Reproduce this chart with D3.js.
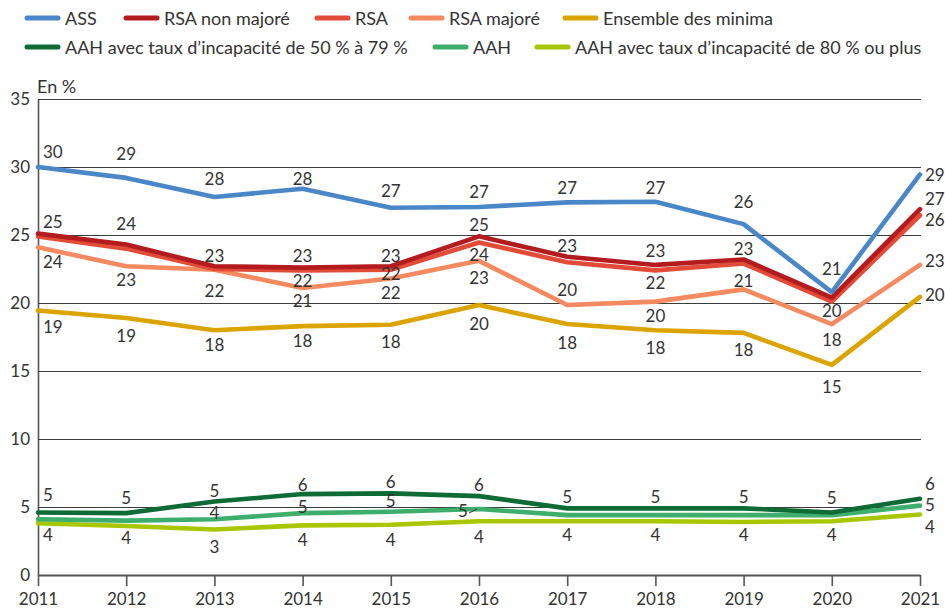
<!DOCTYPE html>
<html lang="fr">
<head>
<meta charset="UTF-8">
<title>Taux par minimum social</title>
<style>
  body { margin: 0; background: #fff; }
  svg text { font-family: Lato, "Noto Sans", sans-serif; fill: #333; }
</style>
<script src="https://d3js.org/d3.v7.min.js"></script>
</head>
<body>
<script>
// years on the x axis
const years = [2011, 2012, 2013, 2014, 2015, 2016, 2017, 2018, 2019, 2020, 2021];

// values (en %)
const ass          = [30.0, 29.2, 27.8, 28.4, 27.0, 27.06, 27.4, 27.45, 25.8, 20.8, 29.45];
const rsaNonMajore = [25.1, 24.3, 22.7, 22.6, 22.7, 24.9, 23.4, 22.8, 23.2, 20.4, 26.9];
const rsa          = [24.9, 24.0, 22.5, 22.4, 22.45, 24.45, 23.0, 22.4, 22.9, 20.1, 26.45];
const rsaMajore    = [24.1, 22.7, 22.45, 21.1, 21.8, 23.1, 19.85, 20.1, 21.0, 18.45, 22.8];
const ensemble     = [19.45, 18.9, 18.0, 18.3, 18.4, 19.85, 18.45, 18.0, 17.8, 15.45, 20.45];
const aah5079      = [4.6, 4.55, 5.4, 5.95, 6.0, 5.8, 4.9, 4.9, 4.9, 4.6, 5.6];
const aah          = [4.1, 4.0, 4.1, 4.55, 4.65, 4.85, 4.4, 4.4, 4.4, 4.4, 5.1];
const aah80        = [3.8, 3.6, 3.35, 3.65, 3.7, 3.95, 3.95, 3.95, 3.9, 3.95, 4.45];

const yTicks = [0, 5, 10, 15, 20, 25, 30, 35];

// where each value label sits, px above(-)/below(+) its point; null = no label
const labAss      = [-16, -24, -18, -10, -17, -15, -15, -14, -23, -24, 0];
const labRsaNm    = [-12, -21, -11, -12, -11, -12, -11, -14, -11, null, -11];
const labRsa      = [null, null, null, 10, 4, 12, null, 12, null, 9, 4];
const labRsaMaj   = [14, 13, 21, 12, 14, 17, -16, 14, -9, 15, -4];
const labEnsemble = [16, 18, 14, 14, 17, 18, 18, 17, 17, 22, -2];
const lab5079     = [-18, -16, -11, -10, -12, -12, -12, -12, -12, -15, -15];
const labAah      = [null, null, -7, -7, -11, "lead", null, null, null, null, -1];
const lab80       = [11, 11, 17, 14, 15, 15, 13, 13, 13, 13, 12];

// drawing order: first drawn sits underneath
const series = [
  {name: "AAH avec taux d\u2019incapacité de 80 % ou plus", values: aah80, color: "#a9c700", lab: lab80},
  {name: "AAH", values: aah, color: "#3dae6c", lab: labAah},
  {name: "AAH avec taux d\u2019incapacité de 50 % à 79 %", values: aah5079, color: "#0f6b35", lab: lab5079},
  {name: "Ensemble des minima", values: ensemble, color: "#dba400", lab: labEnsemble},
  {name: "RSA majoré", values: rsaMajore, color: "#f58a60", lab: labRsaMaj},
  {name: "RSA", values: rsa, color: "#e34b39", lab: labRsa},
  {name: "RSA non majoré", values: rsaNonMajore, color: "#b31b1f", lab: labRsaNm},
  {name: "ASS", values: ass, color: "#4a87c9", lab: labAss}
];

const W = 945, H = 609;
const svg = d3.select("body").append("svg").attr("width", W).attr("height", H);

const x = d3.scalePoint().domain(years).range([38, 920]);
const y = d3.scaleLinear().domain([0, 35]).range([575, 99]);

// y axis + gridlines
const yAxis = svg.append("g")
  .attr("transform", "translate(38,0)")
  .call(d3.axisLeft(y).tickValues(yTicks).tickSize(-883).tickSizeOuter(0).tickPadding(8));
yAxis.select(".domain").attr("stroke", "#555").attr("stroke-width", 1.6);
yAxis.selectAll(".tick line").attr("stroke", "#3c3c3c").attr("stroke-width", 1);
yAxis.selectAll(".tick text").style("font-size", "17px").attr("fill", "#555");
yAxis.selectAll(".tick").filter(d => d === 0).select("line").remove();

svg.append("text").attr("x", 37).attr("y", 93).style("font-size", "18px").text("En %");

// x axis
const xAxis = svg.append("g")
  .attr("transform", "translate(0,575)")
  .call(d3.axisBottom(x).tickSize(11).tickSizeOuter(0).tickPadding(7).tickFormat(d3.format("d")));
xAxis.select(".domain").attr("stroke", "#555").attr("stroke-width", 1.8);
xAxis.selectAll(".tick line").attr("stroke", "#555").attr("stroke-width", 1.6);
xAxis.selectAll(".tick text").style("font-size", "17px").attr("fill", "#444");

// lines
const line = d3.line()
  .x((d, i) => x(years[i]))
  .y(d => y(d));

svg.append("g").selectAll("path")
  .data(series)
  .join("path")
  .attr("d", s => line(s.values))
  .attr("fill", "none")
  .attr("stroke", s => s.color)
  .attr("stroke-width", 4.6)
  .attr("stroke-linejoin", "round")
  .attr("stroke-linecap", "round");

// value labels
const labels = svg.append("g").style("font-size", "17px");
series.forEach(s => {
  s.values.forEach((v, i) => {
    const off = s.lab[i];
    if (off === null) return;
    const px = x(years[i]), py = y(v);
    if (off === "lead") {
      labels.append("text")
        .attr("x", px - 16).attr("y", py + 1)
        .attr("text-anchor", "middle")
        .attr("dominant-baseline", "central")
        .text(Math.round(v));
      labels.append("line")
        .attr("x1", px - 10).attr("y1", py + 4)
        .attr("x2", px - 2).attr("y2", py)
        .attr("stroke", "#333").attr("stroke-width", 1);
      return;
    }
    let anchor = "middle", lx = px;
    if (i === 0) { anchor = "start"; lx = px + 5; }
    if (i === years.length - 1) { anchor = "start"; lx = px + 5; }
    labels.append("text")
      .attr("x", lx).attr("y", py + off)
      .attr("text-anchor", anchor)
      .attr("dominant-baseline", "central")
      .text(Math.round(v));
  });
});

// legend
const legendRows = [
  [{s: "ASS", x: 27}, {s: "RSA non majoré", x: 126}, {s: "RSA", x: 317}, {s: "RSA majoré", x: 411}, {s: "Ensemble des minima", x: 565}],
  [{s: "AAH avec taux d\u2019incapacité de 50 % à 79 %", x: 27}, {s: "AAH", x: 435}, {s: "AAH avec taux d\u2019incapacité de 80 % ou plus", x: 537}]
];
const legend = svg.append("g").style("font-size", "18px");
legendRows.forEach((row, r) => {
  const ly = 18 + r * 29;
  row.forEach(it => {
    const s = series.find(d => d.name === it.s);
    legend.append("line")
      .attr("x1", it.x).attr("x2", it.x + 31)
      .attr("y1", ly).attr("y2", ly)
      .attr("stroke", s.color).attr("stroke-width", 5)
      .attr("stroke-linecap", "round");
    legend.append("text")
      .attr("x", it.x + 38).attr("y", ly)
      .attr("dominant-baseline", "central")
      .text(it.s);
  });
});
</script>
</body>
</html>
